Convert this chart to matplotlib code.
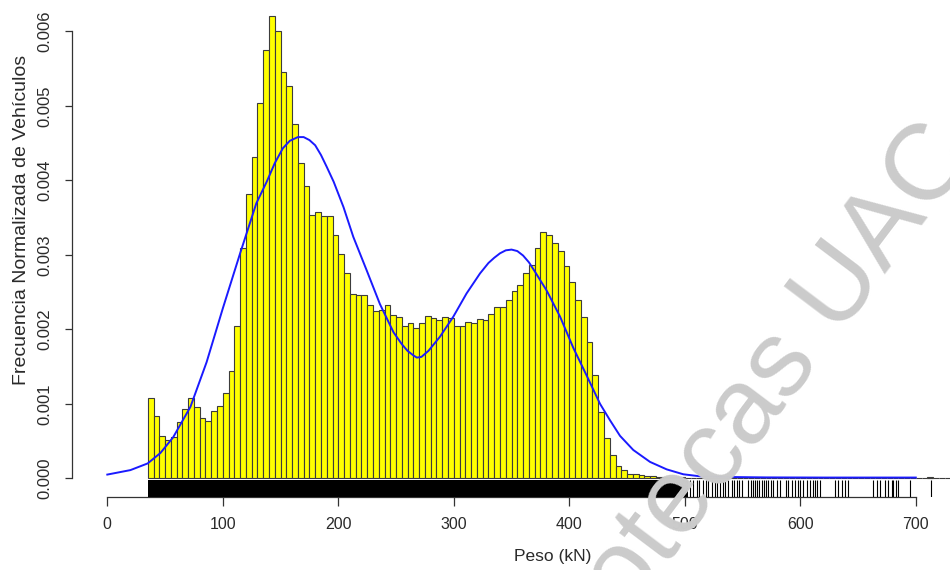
import matplotlib
matplotlib.use('Agg')
import matplotlib.pyplot as plt
from matplotlib.patches import Rectangle
import numpy as np

plt.rcParams['font.family'] = ['Liberation Sans', 'DejaVu Sans']

# ---------------- data ----------------
bin_width = 5
bin_start = 35
# histogram densities (x 1e-3) for bins 35-40, 40-45, ... 515-520
hist_heights = [1.08, 0.83, 0.57, 0.51, 0.56, 0.76, 0.93, 1.08, 0.96, 0.81,
                0.77, 0.90, 0.97, 1.14, 1.44, 2.04, 3.09, 3.82, 4.31, 5.04,
                5.75, 6.20, 6.01, 5.46, 5.27, 4.75, 4.23, 3.92, 3.54, 3.58,
                3.52, 3.52, 3.27, 3.01, 2.75, 2.48, 2.46, 2.46, 2.32, 2.25,
                2.26, 2.32, 2.19, 2.17, 2.04, 2.08, 2.02, 2.08, 2.18, 2.15,
                2.13, 2.17, 2.15, 2.04, 2.04, 2.10, 2.08, 2.14, 2.12, 2.20,
                2.30, 2.30, 2.40, 2.52, 2.60, 2.75, 2.86, 3.09, 3.31, 3.26,
                3.16, 3.05, 2.85, 2.64, 2.39, 2.17, 1.83, 1.39, 0.89, 0.54,
                0.31, 0.17, 0.11, 0.063, 0.054, 0.040, 0.031, 0.027, 0.022, 0.018,
                0.018, 0.013, 0.013, 0.009, 0.006, 0.004, 0.003]
# isolated far bin
far_bins = [710]
far_heights = [0.02]
# empty bins drawn by R as zero-height rectangles
empty_bin_first = 520
empty_bin_last = 730

# density curve (x in kN, y x 1e-3)
kde_x = [0, 20, 35, 46, 57, 72, 86, 100, 115, 129, 138, 145, 152, 158, 165,
         170, 175, 180, 185, 190, 196, 204.5, 213, 224.6, 236, 247.8, 255,
         260, 265, 268, 272, 278, 288, 299.6, 311, 322.7, 330, 335, 340, 345,
         350, 355, 360, 365, 370, 380.4, 392, 403.5, 415, 426.6, 435.2, 443.9,
         455.4, 469.9, 484.3, 498.7, 513, 535, 570, 620, 700]
kde_y = [0.05, 0.11, 0.20, 0.34, 0.55, 0.96, 1.56, 2.28, 3.02, 3.69, 3.98,
         4.23, 4.43, 4.53, 4.58, 4.58, 4.54, 4.47, 4.34, 4.18, 3.98, 3.64,
         3.24, 2.79, 2.34, 1.96, 1.80, 1.71, 1.65, 1.62, 1.63, 1.71, 1.90,
         2.17, 2.48, 2.75, 2.89, 2.96, 3.02, 3.06, 3.07, 3.05, 2.99, 2.90,
         2.78, 2.52, 2.17, 1.75, 1.38, 1.00, 0.78, 0.57, 0.38, 0.22, 0.12,
         0.054, 0.027, 0.018, 0.012, 0.010, 0.010]

# rug: solid band of observations plus isolated large values
rug_dense = [35, 503]
rug_ticks = [504.5, 507.4, 510.3, 512.6, 515.5, 518.4, 520.4, 523.3, 526.2,
             527.6, 530.5, 532.8, 534.8, 537.7, 540.6, 542.6, 545.0, 547.2,
             549.3, 555.0, 557.0, 558.8, 560.8, 562.3, 564.6, 566.6, 568.6,
             570.3, 572.4, 574.4, 576.7, 579.6, 582.5, 587.7, 589.7, 592.6,
             595.5, 598.3, 599.8, 602.7, 605.5, 608.4, 610.8, 612.8, 614.8,
             617.1, 630.1, 633.0, 635.9, 638.7, 641.6, 663.3, 666.2, 669.0,
             673.4, 676.3, 679.1, 680.6, 682.9, 684.9, 695.0, 712.9]

x_ticks = [0, 100, 200, 300, 400, 500, 600, 700]
y_ticks = [0.000, 0.001, 0.002, 0.003, 0.004, 0.005, 0.006]
x_label = 'Peso (kN)'
y_label = 'Frecuencia Normalizada de Vehículos'
watermark = 'Bibliotecas UAC'

# ---------------- figure ----------------
W, H = 950, 570
fig = plt.figure(figsize=(W / 100, H / 100), dpi=100)
px0, py0 = 72, 496.5   # plot region bottom-left in pixels
ax = fig.add_axes([px0 / W, 1 - py0 / H, 1 - px0 / W, py0 / H])

xscale = 1.155   # px per kN
x0px = 107.3
ax.set_xlim((px0 - x0px) / xscale, (W - x0px) / xscale)
yscale = 74.5 / 0.001
y0px = 478.3
ax.set_ylim(-(py0 - y0px) / yscale, y0px / yscale)

edge = '#3c3c3c'
lefts = bin_start + bin_width * np.arange(len(hist_heights))
ax.bar(lefts, np.array(hist_heights) * 1e-3, width=bin_width, align='edge',
       color='#FFFF00', edgecolor=edge, linewidth=0.8, zorder=2)
empty = np.arange(empty_bin_first, empty_bin_last + 1, bin_width)
ax.bar(empty, np.zeros(len(empty)), width=bin_width, align='edge',
       color='#FFFF00', edgecolor=edge, linewidth=0.8, zorder=2)
ax.bar(far_bins, np.array(far_heights) * 1e-3, width=bin_width, align='edge',
       color='#FFFF00', edgecolor=edge, linewidth=0.8, zorder=2)

ax.plot(kde_x, np.array(kde_y) * 1e-3, color='#1a1aff', linewidth=1.4, zorder=3)

tr = ax.get_xaxis_transform()
rug_h = (py0 - 480.0) / py0
ax.add_patch(Rectangle((rug_dense[0], 0), rug_dense[1] - rug_dense[0], rug_h,
                       transform=tr, facecolor='black', edgecolor='none', zorder=3))
ax.vlines(rug_ticks, 0, rug_h, transform=tr, colors='black', linewidth=0.8, zorder=3)

for s in ['top', 'right']:
    ax.spines[s].set_visible(False)
ax.spines['left'].set_bounds(0, 0.006)
ax.spines['bottom'].set_bounds(0, 700)
for s in ['left', 'bottom']:
    ax.spines[s].set_color('#333333')
    ax.spines[s].set_linewidth(0.9)

ax.set_xticks(x_ticks)
ax.set_xticklabels([str(v) for v in x_ticks])
ax.set_yticks(y_ticks)
ax.set_yticklabels(['%.3f' % v for v in y_ticks], rotation=90, va='center')
ax.tick_params(axis='x', length=6.5, width=0.9, color='#333333', labelsize=11.5,
               labelcolor='#2a2a2a', pad=8)
ax.tick_params(axis='y', length=5, width=0.9, color='#333333', labelsize=12,
               labelcolor='#2a2a2a', pad=9)
ax.patch.set_visible(False)

fig.text(553 / W, 1 - 556 / H, x_label, ha='center', va='center',
         fontsize=12.5, color='#2a2a2a')
fig.text(22 / W, 1 - 220 / H, y_label, ha='center', va='center', rotation=90,
         fontsize=14, color='#2a2a2a')

fig.text(976 / W, 1 - 154 / H, watermark, ha='right', va='baseline',
         rotation=53, rotation_mode='anchor', fontsize=78, color='#cbcbcb',
         zorder=10)

fig.savefig('out.png', dpi=100)
